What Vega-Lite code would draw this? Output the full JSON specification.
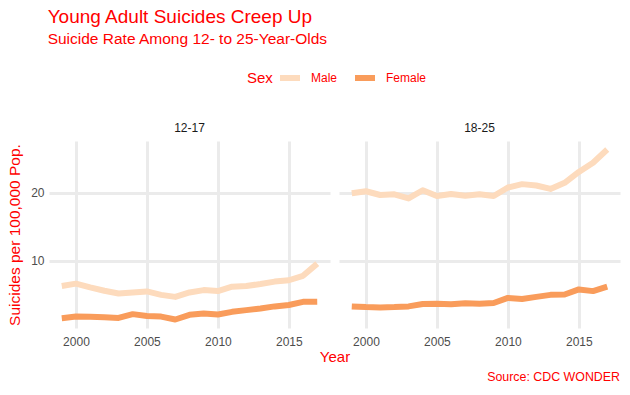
{
  "$schema": "https://vega.github.io/schema/vega-lite/v6.json",
  "background": "white",
  "padding": {"left": 7, "top": 7, "right": 10, "bottom": 8},
  "config": {
    "font": "Liberation Sans",
    "view": {"stroke": null},
    "title": {"color": "#ff0000", "font": "Liberation Sans", "fontWeight": "normal"}
  },
  "title": {"text": "Source: CDC WONDER", "orient": "bottom", "anchor": "end", "fontSize": 12.4, "fontWeight": "normal", "color": "#ff0000", "offset": 6},
  "vconcat": [
    {
      "title": {"text": "Young Adult Suicides Creep Up", "subtitle": "Suicide Rate Among 12- to 25-Year-Olds", "anchor": "start", "frame": "bounds", "fontSize": 19, "subtitleFontSize": 15.5, "subtitleColor": "#ff0000", "subtitleFont": "Liberation Sans", "subtitlePadding": 5, "dx": 40, "offset": 75},
      "data": {"values": [
        {"age": "12-17", "sex": "Male", "year": 1999, "rate": 6.3},
        {"age": "12-17", "sex": "Male", "year": 2000, "rate": 6.65},
        {"age": "12-17", "sex": "Male", "year": 2001, "rate": 6.1},
        {"age": "12-17", "sex": "Male", "year": 2002, "rate": 5.6},
        {"age": "12-17", "sex": "Male", "year": 2003, "rate": 5.2},
        {"age": "12-17", "sex": "Male", "year": 2004, "rate": 5.35},
        {"age": "12-17", "sex": "Male", "year": 2005, "rate": 5.5},
        {"age": "12-17", "sex": "Male", "year": 2006, "rate": 5.0},
        {"age": "12-17", "sex": "Male", "year": 2007, "rate": 4.7},
        {"age": "12-17", "sex": "Male", "year": 2008, "rate": 5.35},
        {"age": "12-17", "sex": "Male", "year": 2009, "rate": 5.7},
        {"age": "12-17", "sex": "Male", "year": 2010, "rate": 5.55},
        {"age": "12-17", "sex": "Male", "year": 2011, "rate": 6.2},
        {"age": "12-17", "sex": "Male", "year": 2012, "rate": 6.3},
        {"age": "12-17", "sex": "Male", "year": 2013, "rate": 6.6},
        {"age": "12-17", "sex": "Male", "year": 2014, "rate": 6.95},
        {"age": "12-17", "sex": "Male", "year": 2015, "rate": 7.15},
        {"age": "12-17", "sex": "Male", "year": 2016, "rate": 7.8},
        {"age": "12-17", "sex": "Male", "year": 2017, "rate": 9.6},
        {"age": "12-17", "sex": "Female", "year": 1999, "rate": 1.57},
        {"age": "12-17", "sex": "Female", "year": 2000, "rate": 1.8},
        {"age": "12-17", "sex": "Female", "year": 2001, "rate": 1.76},
        {"age": "12-17", "sex": "Female", "year": 2002, "rate": 1.7},
        {"age": "12-17", "sex": "Female", "year": 2003, "rate": 1.6},
        {"age": "12-17", "sex": "Female", "year": 2004, "rate": 2.16},
        {"age": "12-17", "sex": "Female", "year": 2005, "rate": 1.9},
        {"age": "12-17", "sex": "Female", "year": 2006, "rate": 1.8},
        {"age": "12-17", "sex": "Female", "year": 2007, "rate": 1.37},
        {"age": "12-17", "sex": "Female", "year": 2008, "rate": 2.06},
        {"age": "12-17", "sex": "Female", "year": 2009, "rate": 2.25},
        {"age": "12-17", "sex": "Female", "year": 2010, "rate": 2.1},
        {"age": "12-17", "sex": "Female", "year": 2011, "rate": 2.5},
        {"age": "12-17", "sex": "Female", "year": 2012, "rate": 2.75},
        {"age": "12-17", "sex": "Female", "year": 2013, "rate": 3.0},
        {"age": "12-17", "sex": "Female", "year": 2014, "rate": 3.3},
        {"age": "12-17", "sex": "Female", "year": 2015, "rate": 3.5},
        {"age": "12-17", "sex": "Female", "year": 2016, "rate": 3.97},
        {"age": "12-17", "sex": "Female", "year": 2017, "rate": 4.0},
        {"age": "18-25", "sex": "Male", "year": 1999, "rate": 19.95},
        {"age": "18-25", "sex": "Male", "year": 2000, "rate": 20.25},
        {"age": "18-25", "sex": "Male", "year": 2001, "rate": 19.7},
        {"age": "18-25", "sex": "Male", "year": 2002, "rate": 19.8},
        {"age": "18-25", "sex": "Male", "year": 2003, "rate": 19.2},
        {"age": "18-25", "sex": "Male", "year": 2004, "rate": 20.4},
        {"age": "18-25", "sex": "Male", "year": 2005, "rate": 19.55},
        {"age": "18-25", "sex": "Male", "year": 2006, "rate": 19.85},
        {"age": "18-25", "sex": "Male", "year": 2007, "rate": 19.6},
        {"age": "18-25", "sex": "Male", "year": 2008, "rate": 19.8},
        {"age": "18-25", "sex": "Male", "year": 2009, "rate": 19.55},
        {"age": "18-25", "sex": "Male", "year": 2010, "rate": 20.8},
        {"age": "18-25", "sex": "Male", "year": 2011, "rate": 21.3},
        {"age": "18-25", "sex": "Male", "year": 2012, "rate": 21.1},
        {"age": "18-25", "sex": "Male", "year": 2013, "rate": 20.6},
        {"age": "18-25", "sex": "Male", "year": 2014, "rate": 21.5},
        {"age": "18-25", "sex": "Male", "year": 2015, "rate": 23.1},
        {"age": "18-25", "sex": "Male", "year": 2016, "rate": 24.45},
        {"age": "18-25", "sex": "Male", "year": 2017, "rate": 26.4},
        {"age": "18-25", "sex": "Female", "year": 1999, "rate": 3.3},
        {"age": "18-25", "sex": "Female", "year": 2000, "rate": 3.2},
        {"age": "18-25", "sex": "Female", "year": 2001, "rate": 3.15},
        {"age": "18-25", "sex": "Female", "year": 2002, "rate": 3.2},
        {"age": "18-25", "sex": "Female", "year": 2003, "rate": 3.3},
        {"age": "18-25", "sex": "Female", "year": 2004, "rate": 3.65},
        {"age": "18-25", "sex": "Female", "year": 2005, "rate": 3.7},
        {"age": "18-25", "sex": "Female", "year": 2006, "rate": 3.6},
        {"age": "18-25", "sex": "Female", "year": 2007, "rate": 3.75},
        {"age": "18-25", "sex": "Female", "year": 2008, "rate": 3.7},
        {"age": "18-25", "sex": "Female", "year": 2009, "rate": 3.8},
        {"age": "18-25", "sex": "Female", "year": 2010, "rate": 4.55},
        {"age": "18-25", "sex": "Female", "year": 2011, "rate": 4.4},
        {"age": "18-25", "sex": "Female", "year": 2012, "rate": 4.7},
        {"age": "18-25", "sex": "Female", "year": 2013, "rate": 5.0},
        {"age": "18-25", "sex": "Female", "year": 2014, "rate": 5.05},
        {"age": "18-25", "sex": "Female", "year": 2015, "rate": 5.8},
        {"age": "18-25", "sex": "Female", "year": 2016, "rate": 5.55},
        {"age": "18-25", "sex": "Female", "year": 2017, "rate": 6.2}
      ]},
      "facet": {
        "column": {
          "field": "age", "type": "nominal",
          "header": {
            "title": "Year", "titleOrient": "bottom", "titleColor": "#ff0000", "titleFontSize": 15, "titleFontWeight": "normal", "titleFont": "Liberation Sans", "titlePadding": -7,
            "labelOrient": "top", "labelFontSize": 12, "labelColor": "#1a1a1a", "labelFont": "Liberation Sans", "labelPadding": 6
          }
        }
      },
      "spacing": 9,
      "spec": {
        "width": 281,
        "height": 187,
        "mark": {"type": "line", "strokeWidth": 6, "strokeJoin": "round", "strokeCap": "butt"},
        "encoding": {
          "x": {"field": "year", "type": "quantitative",
            "scale": {"domain": [1998.1, 2017.9], "nice": false, "zero": false},
            "axis": {"title": null, "values": [2000, 2005, 2010, 2015], "format": "d", "labelFontSize": 12, "labelColor": "#4d4d4d", "labelFont": "Liberation Sans", "ticks": false, "domain": false, "gridColor": "#ebebeb", "gridWidth": 3, "labelPadding": 8}},
          "y": {"field": "rate", "type": "quantitative",
            "scale": {"domain": [0.12, 27.65], "nice": false, "zero": false},
            "axis": {"title": "Suicides per 100,000 Pop.", "titleColor": "#ff0000", "titleFontSize": 15.5, "titleFontWeight": "normal", "titleFont": "Liberation Sans", "values": [10, 20], "labelFontSize": 12, "labelColor": "#4d4d4d", "labelFont": "Liberation Sans", "ticks": false, "domain": false, "gridColor": "#ebebeb", "gridWidth": 3, "labelPadding": 5, "titlePadding": 8}},
          "color": {"field": "sex", "type": "nominal",
            "scale": {"domain": ["Male", "Female"], "range": ["#fddbbd", "#f99c5b"]},
            "legend": {"title": "Sex", "orient": "none", "legendX": 198, "legendY": -76, "direction": "horizontal", "gridAlign": "none", "titleOrient": "left", "titleColor": "#ff0000", "titleFontSize": 15, "titleFontWeight": "normal", "titleFont": "Liberation Sans", "titlePadding": 4, "labelColor": "#ff0000", "labelFontSize": 12, "labelFont": "Liberation Sans", "symbolType": "stroke", "symbolSize": 400, "symbolStrokeWidth": 6, "labelOffset": 8, "columnPadding": 5}
          }
        }
      }
    }
  ]
}
